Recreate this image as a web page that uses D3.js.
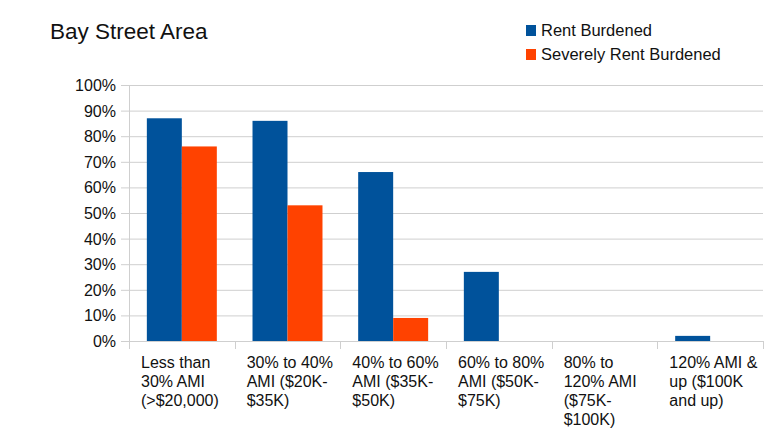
<!DOCTYPE html>
<html>
<head>
<meta charset="utf-8">
<script src="https://cdn.jsdelivr.net/npm/d3@7"></script>
<style>
  body { margin: 0; background: #fff; }
  text { font-family: "Liberation Sans", Arial, sans-serif; fill: #111; }
</style>
</head>
<body>
<script>
var categories = [
  ["Less than", "30% AMI", "(>$20,000)"],
  ["30% to 40%", "AMI ($20K-", "$35K)"],
  ["40% to 60%", "AMI ($35K-", "$50K)"],
  ["60% to 80%", "AMI ($50K-", "$75K)"],
  ["80% to", "120% AMI", "($75K-", "$100K)"],
  ["120% AMI &", "up ($100K", "and up)"]
];
var seriesNames = ["Rent Burdened", "Severely Rent Burdened"];
var rentBurdened = [87, 86, 66, 27, 0, 2];
var severelyBurdened = [76, 53, 9, 0, 0, 0];
var yTicks = [0, 10, 20, 30, 40, 50, 60, 70, 80, 90, 100];
var colors = ["#00529b", "#ff4200"];

var width = 771, height = 429;
var margin = { top: 85, right: 8, bottom: 88, left: 129 };

var svg = d3.select("body").append("svg")
    .attr("width", width)
    .attr("height", height);

var x = d3.scaleBand()
    .domain(d3.range(categories.length))
    .range([margin.left, width - margin.right]);

var inner = d3.scaleBand()
    .domain([0, 1])
    .range([0, x.bandwidth()])
    .paddingOuter(0.51);

var y = d3.scaleLinear()
    .domain([0, 100])
    .range([height - margin.bottom, margin.top]);

// grid lines
svg.append("g")
  .selectAll("line")
  .data(yTicks)
  .enter().append("line")
    .attr("x1", margin.left - 8)
    .attr("x2", width - margin.right)
    .attr("y1", function(d) { return y(d) + 0.5; })
    .attr("y2", function(d) { return y(d) + 0.5; })
    .attr("stroke", "#cfcfcf")
    .attr("stroke-width", 1);

// y axis labels
svg.append("g")
  .selectAll("text")
  .data(yTicks)
  .enter().append("text")
    .attr("x", margin.left - 13)
    .attr("y", function(d) { return y(d) + 6; })
    .attr("text-anchor", "end")
    .style("font-size", "16px")
    .text(function(d) { return d + "%"; });

// y axis line
svg.append("line")
    .attr("x1", margin.left + 0.5).attr("x2", margin.left + 0.5)
    .attr("y1", margin.top).attr("y2", height - margin.bottom + 8)
    .attr("stroke", "#cfcfcf");

// x ticks
svg.append("g")
  .selectAll("line")
  .data(d3.range(1, categories.length + 1))
  .enter().append("line")
    .attr("x1", function(d) { return Math.round(margin.left + d * x.step()) + 0.5; })
    .attr("x2", function(d) { return Math.round(margin.left + d * x.step()) + 0.5; })
    .attr("y1", height - margin.bottom)
    .attr("y2", height - margin.bottom + 8)
    .attr("stroke", "#cfcfcf");

// bars
var seriesData = [rentBurdened, severelyBurdened];
seriesData.forEach(function(vals, s) {
  svg.append("g")
    .selectAll("rect")
    .data(vals)
    .enter().append("rect")
      .attr("x", function(d, i) { return x(i) + inner(s); })
      .attr("width", inner.bandwidth())
      .attr("y", function(d) { return y(d); })
      .attr("height", function(d) { return y(0) - y(d); })
      .attr("fill", colors[s]);
});

// category labels
var catG = svg.append("g")
  .selectAll("text")
  .data(categories)
  .enter().append("text")
    .attr("x", function(d, i) { return x(i) + 12; })
    .attr("y", height - margin.bottom + 27)
    .style("font-size", "16px");

catG.selectAll("tspan")
  .data(function(d) { return d; })
  .enter().append("tspan")
    .attr("x", function() { return d3.select(this.parentNode).attr("x"); })
    .attr("dy", function(d, i) { return i === 0 ? 0 : 19; })
    .text(function(d) { return d; });

// title
svg.append("text")
    .attr("x", 50)
    .attr("y", 39)
    .style("font-size", "22.5px")
    .text("Bay Street Area");

// legend
var legend = svg.append("g")
  .selectAll("g")
  .data(seriesNames)
  .enter().append("g")
    .attr("transform", function(d, i) { return "translate(526," + (25 + i * 24) + ")"; });

legend.append("rect")
    .attr("width", 10)
    .attr("height", 11)
    .attr("fill", function(d, i) { return colors[i]; });

legend.append("text")
    .attr("x", 15)
    .attr("y", 11)
    .style("font-size", "16.5px")
    .text(function(d) { return d; });
</script>
</body>
</html>
